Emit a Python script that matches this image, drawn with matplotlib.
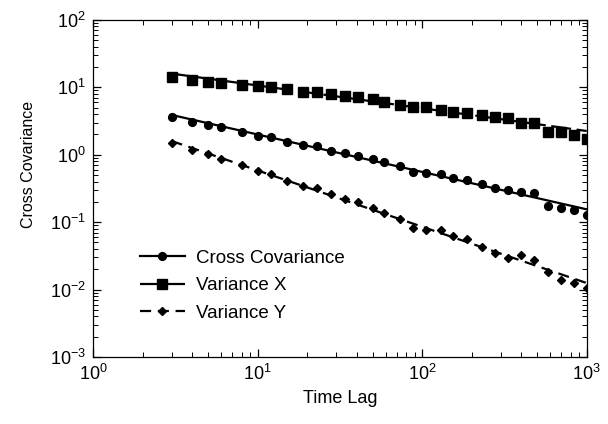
import matplotlib
matplotlib.use("Agg")
import matplotlib.pyplot as plt
from matplotlib.lines import Line2D

plt.rcParams["font.family"] = ["Liberation Sans", "DejaVu Sans"]
plt.rcParams["mathtext.fontset"] = "custom"
plt.rcParams["mathtext.rm"] = "Liberation Sans"

# time lags (same for all series)
lags = [3, 4, 5, 6, 8, 10, 12, 15, 19, 23, 28, 34, 41, 50, 59,
        73, 88, 106, 131, 153, 187, 230, 276, 331, 398, 478, 580, 700, 840, 1000]

cross_cov = [3.64, 3.07, 2.77, 2.58, 2.18, 1.90, 1.84, 1.55, 1.40, 1.35,
             1.14, 1.06, 0.96, 0.87, 0.78, 0.68, 0.56, 0.54, 0.52, 0.45,
             0.42, 0.37, 0.32, 0.30, 0.28, 0.27, 0.174, 0.162, 0.152, 0.128]

var_x = [14.3, 12.9, 12.0, 11.6, 10.9, 10.5, 10.1, 9.5, 8.5, 8.5,
         8.0, 7.4, 7.2, 6.7, 6.1, 5.5, 5.1, 5.1, 4.6, 4.3,
         4.2, 3.9, 3.6, 3.5, 3.0, 3.0, 2.2, 2.2, 1.97, 1.7]

var_y = [1.50, 1.18, 1.03, 0.87, 0.71, 0.575, 0.52, 0.41, 0.344, 0.32,
         0.262, 0.221, 0.20, 0.162, 0.137, 0.111, 0.082, 0.0766, 0.0766, 0.0624,
         0.0563, 0.0429, 0.0349, 0.0294, 0.0326, 0.0275, 0.0182, 0.0139, 0.0125, 0.0106]

# power-law fit lines (straight on log-log), endpoints
fit_lags = [3, 1000]
fit_cross = [3.9, 0.155]
fit_x = [16.0, 2.25]
fit_y = [1.6, 0.0125]

fig = plt.figure(figsize=(6.08, 4.24), dpi=100)
ax = fig.add_axes([0.153, 0.158, 0.812, 0.795])

ax.plot(fit_lags, fit_cross, color="k", lw=1.6, ls="-")
ax.plot(fit_lags, fit_x, color="k", lw=1.6, ls=(0, (9, 2.5)))
ax.plot(fit_lags, fit_y, color="k", lw=1.6, ls=(0, (5, 3)))

ax.plot(lags, cross_cov, ls="none", marker="o", ms=5.6, color="k")
ax.plot(lags, var_x, ls="none", marker="s", ms=6.6, color="k")
ax.plot(lags, var_y, ls="none", marker="D", ms=4.2, color="k")

ax.set_xscale("log")
ax.set_yscale("log")
ax.set_xlim(1, 1000)
ax.set_ylim(1e-3, 1e2)
ax.set_xlabel("Time Lag", fontsize=13, labelpad=4)
ax.set_ylabel("Cross Covariance", fontsize=11.5)
ax.yaxis.set_label_coords(-0.115, 0.57)

ax.tick_params(which="both", direction="in", top=True, right=True, labelsize=13)
ax.tick_params(which="major", length=6, width=0.9, pad=5)
ax.tick_params(which="minor", length=3.5, width=0.7)
for s in ax.spines.values():
    s.set_linewidth(0.9)

handles = [
    Line2D([], [], color="k", lw=1.6, ls="-", marker="o", ms=5.6),
    Line2D([], [], color="k", lw=1.6, ls=(0, (9, 2.5)), marker="s", ms=6.6),
    Line2D([], [], color="k", lw=1.6, ls=(0, (5, 3)), marker="D", ms=4.2),
]
ax.legend(handles, ["Cross Covariance", "Variance X", "Variance Y"],
          loc="lower left", bbox_to_anchor=(0.06, 0.055), frameon=False,
          fontsize=13.5, handlelength=2.4, handletextpad=0.6, labelspacing=0.55)

fig.savefig("out.png", dpi=100)
